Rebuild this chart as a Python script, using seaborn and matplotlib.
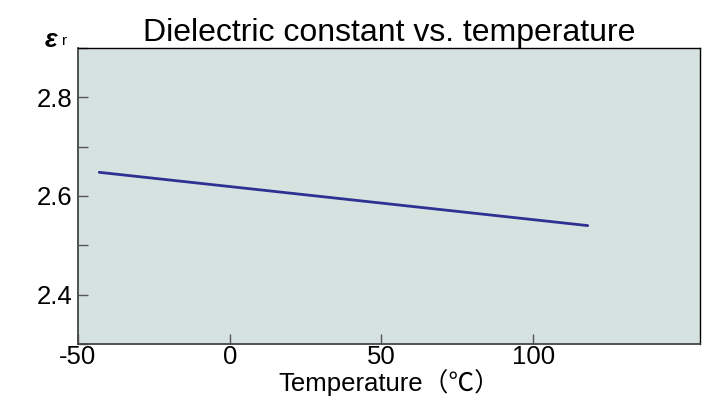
import matplotlib
matplotlib.use("Agg")
import matplotlib.pyplot as plt
import seaborn as sns
import pandas as pd
from matplotlib.ticker import MultipleLocator

# data
temperature = [-43, 118]
eps_r = [2.648, 2.540]

df = pd.DataFrame({"Temperature": temperature, "eps": eps_r})

sns.set_style("white")
plt.rcParams["font.family"] = ["Liberation Sans", "Noto Sans CJK JP", "DejaVu Sans"]
plt.rcParams["text.color"] = "black"
plt.rcParams["axes.labelcolor"] = "black"
plt.rcParams["xtick.color"] = "black"
plt.rcParams["ytick.color"] = "black"

fig = plt.figure(figsize=(7.17, 4.07), dpi=100)
ax = fig.add_axes([78 / 717, 1 - 344 / 407, 622 / 717, 296 / 407])
ax.set_facecolor("#d6e2e0")

sns.lineplot(data=df, x="Temperature", y="eps", color="#2e3192", linewidth=2, ax=ax)

ax.set_xlim(-50, 155)
ax.set_ylim(2.3, 2.9)
ax.set_xticks([-50, 0, 50, 100])
ax.set_xticklabels(["-50", "0", "50", "100"])
ax.set_yticks([2.4, 2.6, 2.8])
ax.yaxis.set_minor_locator(MultipleLocator(0.1))
ax.tick_params(axis="both", which="both", direction="in", length=7, width=1,
               color="#555555", labelsize=18.5, pad=4, bottom=True, left=True,
               labelcolor="black")
ax.tick_params(axis="x", pad=1)
ax.tick_params(axis="y", which="minor", length=7, left=True)

for side in ["left", "bottom"]:
    ax.spines[side].set_color("#444444")
    ax.spines[side].set_linewidth(1.3)
for side in ["top", "right"]:
    ax.spines[side].set_color("black")
    ax.spines[side].set_linewidth(1)

ax.set_xlabel("Temperature（℃）", fontsize=18.5, labelpad=0, color="black")
ax.set_ylabel("")
ax.set_title("Dielectric constant vs. temperature", fontsize=23, pad=4, color="black")

fig.text(51 / 717, 1 - 40 / 407, "ε", fontsize=19, fontweight="bold", style="italic",
         ha="center", va="center")
fig.text(65 / 717, 1 - 41 / 407, "r", fontsize=11, ha="center", va="center")

fig.savefig("out.png", dpi=100)
